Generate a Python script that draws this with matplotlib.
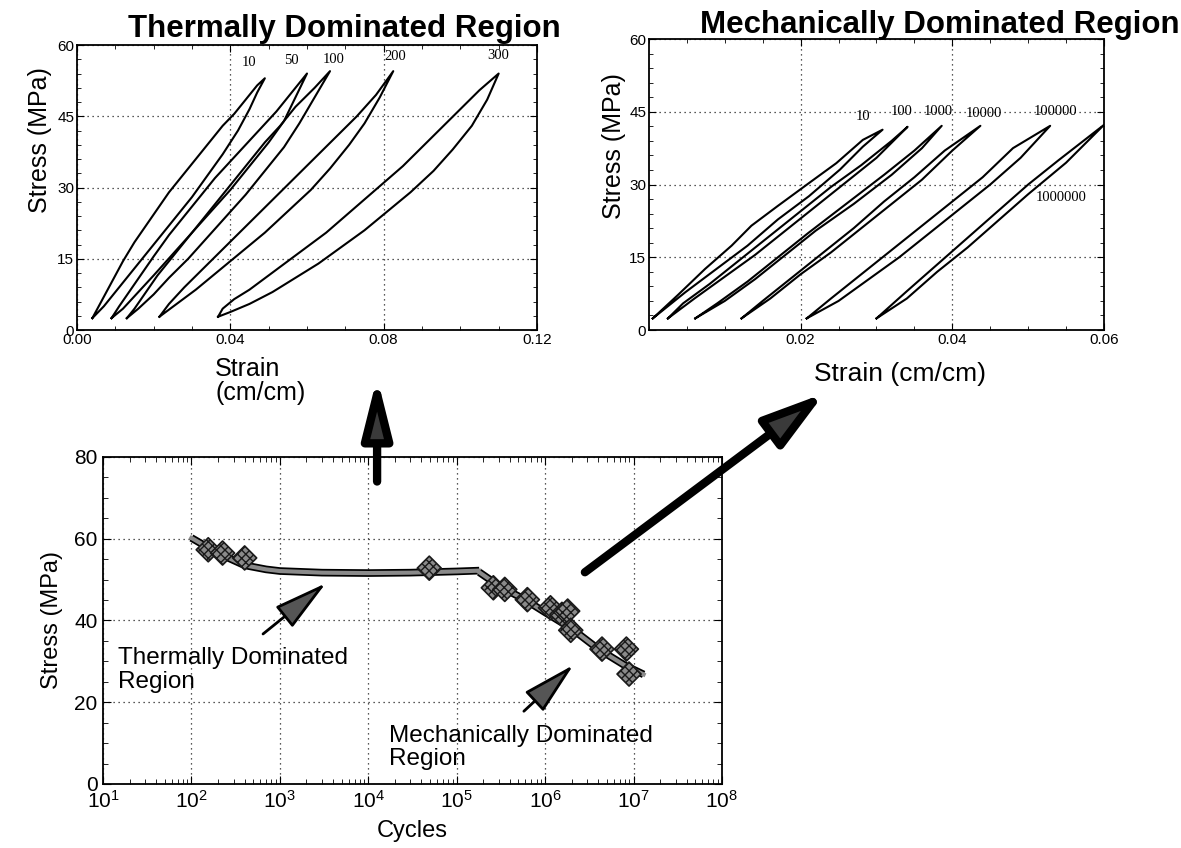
import matplotlib
matplotlib.use('Agg')
import numpy as np
import matplotlib.pyplot as plt
from matplotlib.ticker import MultipleLocator, FixedLocator, LogLocator, NullFormatter

plt.rcParams['font.family'] = ['Liberation Sans', 'DejaVu Sans']

## thermally dominated loops: cycle labels, loading (upper) and unloading (lower) branches
therm_cycles = ['10', '50', '100', '200', '300']
therm_load_strain = [
    [0.004, 0.006, 0.009, 0.012, 0.015, 0.018, 0.021, 0.024, 0.028, 0.031, 0.035, 0.038, 0.041, 0.044, 0.047, 0.049],
    [0.009, 0.011, 0.014, 0.017, 0.020, 0.024, 0.028, 0.032, 0.036, 0.040, 0.044, 0.048, 0.052, 0.056, 0.060],
    [0.013, 0.015, 0.018, 0.021, 0.025, 0.029, 0.033, 0.037, 0.041, 0.045, 0.049, 0.053, 0.057, 0.062, 0.066],
    [0.0215, 0.024, 0.028, 0.033, 0.038, 0.043, 0.048, 0.053, 0.058, 0.063, 0.068, 0.073, 0.078, 0.0825],
    [0.0368, 0.038, 0.041, 0.045, 0.050, 0.055, 0.060, 0.065, 0.070, 0.075, 0.080, 0.085, 0.090, 0.095, 0.100, 0.105, 0.110],
]
therm_load_stress = [
    [2.5, 5.5, 10, 14.5, 18.5, 22, 25.5, 29, 33, 36, 40, 43, 45.5, 48.5, 51.5, 53],
    [2.5, 5, 8.5, 12, 15.5, 20, 24, 28, 32, 35.5, 39, 42.5, 46, 50, 54],
    [2.5, 4.5, 8, 11.5, 15.5, 19.5, 23.5, 27.5, 31.5, 35.5, 39.5, 43, 47, 51, 54.5],
    [2.8, 5.5, 9, 13, 17, 21, 25, 29, 33, 37, 41, 45, 49.5, 54.5],
    [2.8, 4.5, 6.5, 8.5, 11.5, 14.5, 17.5, 20.5, 24, 27.5, 31, 34.5, 38.5, 42.5, 46.5, 50.5, 54],
]
therm_unload_strain = [
    [0.004, 0.007, 0.010, 0.014, 0.018, 0.022, 0.026, 0.030, 0.034, 0.038, 0.042, 0.045, 0.047, 0.049],
    [0.009, 0.012, 0.016, 0.020, 0.025, 0.030, 0.035, 0.040, 0.045, 0.050, 0.054, 0.057, 0.060],
    [0.013, 0.016, 0.020, 0.024, 0.029, 0.034, 0.039, 0.044, 0.049, 0.054, 0.058, 0.062, 0.066],
    [0.0215, 0.026, 0.031, 0.037, 0.043, 0.049, 0.055, 0.061, 0.066, 0.071, 0.075, 0.079, 0.0825],
    [0.0368, 0.040, 0.045, 0.051, 0.057, 0.063, 0.069, 0.075, 0.081, 0.087, 0.093, 0.098, 0.103, 0.107, 0.110],
]
therm_unload_stress = [
    [2.5, 5, 8, 12, 16, 20, 24, 28, 32.5, 37, 42, 46.5, 50, 53],
    [2.5, 4.5, 8, 11.5, 16, 20.5, 25, 29.5, 34.5, 39.5, 44, 49, 54],
    [2.5, 4.5, 7.5, 11, 15, 19.5, 24, 28.5, 33.5, 38.5, 43.5, 49, 54.5],
    [2.8, 5.5, 8.5, 12.5, 16.5, 20.5, 25, 29.5, 34, 39, 43.5, 49, 54.5],
    [2.8, 3.8, 5.5, 8, 11, 14, 17.5, 21, 25, 29, 33.5, 38, 43, 48.5, 54],
]
therm_label_pos = [(0.045, 55), (0.056, 55.3), (0.067, 55.5), (0.083, 56.2), (0.110, 56.4)]

## mechanically dominated loops
mech_cycles = ['10', '100', '1000', '10000', '100000', '1000000']
mech_load_strain = [
    [0.0005, 0.0038, 0.0074, 0.0109, 0.0135, 0.0170, 0.0211, 0.0247, 0.0282, 0.0308],
    [0.0025, 0.0045, 0.008, 0.012, 0.016, 0.020, 0.024, 0.028, 0.032, 0.0341],
    [0.0061, 0.009, 0.013, 0.017, 0.021, 0.026, 0.031, 0.035, 0.0386],
    [0.0122, 0.015, 0.019, 0.023, 0.027, 0.031, 0.035, 0.039, 0.0437],
    [0.0208, 0.024, 0.028, 0.032, 0.036, 0.040, 0.044, 0.048, 0.0529],
    [0.030, 0.034, 0.038, 0.042, 0.046, 0.050, 0.054, 0.060],
]
mech_load_stress = [
    [2.4, 7.2, 12.6, 17.4, 21.5, 25.6, 30.3, 34.4, 39.2, 41.3],
    [2.4, 5.5, 9.5, 14.5, 19.5, 24.5, 29.5, 34, 39, 41.9],
    [2.4, 5.5, 10, 15, 20, 26, 32, 37, 42.1],
    [2.4, 6, 11, 16, 21, 26.5, 31.5, 37, 42.1],
    [2.4, 6.5, 11.5, 16.5, 21.5, 26.5, 31.5, 37.5, 42.1],
    [2.4, 8, 13.5, 19, 24.5, 30, 35, 42.3],
]
mech_unload_strain = [
    [0.0005, 0.0048, 0.0089, 0.0130, 0.0170, 0.0211, 0.0252, 0.0282, 0.0308],
    [0.0025, 0.006, 0.010, 0.014, 0.018, 0.022, 0.026, 0.030, 0.0341],
    [0.0061, 0.010, 0.014, 0.018, 0.022, 0.027, 0.032, 0.036, 0.0386],
    [0.0122, 0.016, 0.020, 0.024, 0.028, 0.032, 0.036, 0.040, 0.0437],
    [0.0208, 0.025, 0.029, 0.033, 0.037, 0.041, 0.045, 0.049, 0.0529],
    [0.030, 0.034, 0.038, 0.042, 0.046, 0.050, 0.055, 0.060],
]
mech_unload_stress = [
    [2.4, 7.8, 12.6, 17.4, 22.8, 27.6, 33.1, 37.8, 41.3],
    [2.4, 6.5, 11, 15.5, 20.5, 25.5, 30.5, 35.5, 41.9],
    [2.4, 6, 10.5, 15.5, 20.5, 26, 32, 37.5, 42.1],
    [2.4, 6.5, 11.5, 16, 21, 26, 31, 37, 42.1],
    [2.4, 6, 10.5, 15, 20, 25, 30, 35.5, 42.1],
    [2.4, 6.5, 12, 17, 22.5, 28, 34.5, 42.3],
]
mech_label_pos = [(0.0282, 44), (0.0333, 45), (0.0381, 45), (0.0442, 44.7), (0.0536, 45), (0.0544, 27.3)]

## stress vs cycles
therm_fit_cycles = [100, 150, 250, 400, 700, 1000, 3000, 1e4, 3e4, 1e5, 1.8e5]
therm_fit_stress = [60.2, 58, 55.5, 53.5, 52.5, 52.1, 51.7, 51.6, 51.7, 52, 52.2]
mech_fit_cycles = [1.8e5, 3e5, 6e5, 1e6, 2e6, 4e6, 8e6, 1.3e7]
mech_fit_stress = [51.8, 48.5, 45, 42, 38, 33, 29, 26.8]
test_cycles = [155, 225, 400, 4.9e4, 2.6e5, 3.5e5, 6.3e5, 1.15e6, 1.55e6, 1.8e6, 1.95e6, 4.4e6, 8.3e6, 8.9e6]
test_stress = [57.3, 56.5, 55.3, 52.8, 48, 47.6, 45.1, 43.1, 41.5, 42.3, 37.6, 33, 33, 26.9]

grid_kw = dict(color='#222222', linestyle=(0, (1, 3)), linewidth=0.9)

fig = plt.figure(figsize=(11.81, 8.48), dpi=100)

def loop_axes(rect, xmax, xmajor, xminor):
    ax = fig.add_axes(rect)
    ax.set_xlim(0, xmax)
    ax.set_ylim(0, 60)
    ax.xaxis.set_major_locator(MultipleLocator(xmajor))
    ax.xaxis.set_minor_locator(MultipleLocator(xminor))
    ax.yaxis.set_major_locator(MultipleLocator(15))
    ax.yaxis.set_minor_locator(MultipleLocator(3))
    ax.tick_params(which='both', direction='in', top=True, right=True, labelsize=11, pad=2)
    ax.tick_params(which='major', length=5)
    ax.tick_params(which='minor', length=3)
    ax.grid(True, which='major', **grid_kw)
    for s in ax.spines.values():
        s.set_linewidth(1.3)
    return ax

# thermally dominated
ax1 = loop_axes([0.0652, 0.6108, 0.3895, 0.3361], 0.12, 0.04, 0.01)
ax1.xaxis.set_major_formatter(plt.FormatStrFormatter('%.2f'))
for i in range(len(therm_cycles)):
    xs = therm_load_strain[i] + therm_unload_strain[i][::-1]
    ys = therm_load_stress[i] + therm_unload_stress[i][::-1]
    ax1.plot(xs, ys, color='black', lw=1.5)
    ax1.text(therm_label_pos[i][0], therm_label_pos[i][1], therm_cycles[i],
             family='Liberation Serif', fontsize=10.5, ha='center', va='bottom')
ax1.text(0.111, 1.028, 'Thermally Dominated Region', transform=ax1.transAxes,
         fontsize=22.5, fontweight='bold', ha='left', va='baseline')
ax1.set_ylabel('Stress (MPa)', fontsize=18)
ax1.yaxis.set_label_coords(-0.054, 0.667)
ax1.text(0.30, -0.095, 'Strain\n(cm/cm)', transform=ax1.transAxes,
         fontsize=18, ha='left', va='top', linespacing=1.0)

# mechanically dominated
ax2 = loop_axes([0.5495, 0.6108, 0.3853, 0.3432], 0.06, 0.02, 0.005)
ax2.xaxis.set_major_locator(FixedLocator([0.02, 0.04, 0.06]))
ax2.xaxis.set_major_formatter(plt.FormatStrFormatter('%.2f'))
for i in range(len(mech_cycles)):
    xs = mech_load_strain[i] + mech_unload_strain[i][::-1]
    ys = mech_load_stress[i] + mech_unload_stress[i][::-1]
    ax2.plot(xs, ys, color='black', lw=1.5)
    ax2.text(mech_label_pos[i][0], mech_label_pos[i][1], mech_cycles[i],
             family='Liberation Serif', fontsize=10.5, ha='center', va='center')
ax2.text(0.112, 1.021, 'Mechanically Dominated Region', transform=ax2.transAxes,
         fontsize=22.5, fontweight='bold', ha='left', va='baseline')
ax2.set_ylabel('Stress (MPa)', fontsize=18)
ax2.yaxis.set_label_coords(-0.05, 0.632)
ax2.text(0.552, -0.15, 'Strain (cm/cm)', transform=ax2.transAxes,
         fontsize=19, ha='center', va='center')

# stress vs cycles
ax3 = fig.add_axes([0.0872, 0.0755, 0.5241, 0.3856])
ax3.set_xscale('log')
ax3.set_xlim(10, 1e8)
ax3.set_ylim(0, 80)
ax3.xaxis.set_major_locator(LogLocator(base=10, numticks=10))
ax3.xaxis.set_minor_locator(LogLocator(base=10, subs=np.arange(2, 10), numticks=20))
ax3.xaxis.set_minor_formatter(NullFormatter())
ax3.yaxis.set_major_locator(MultipleLocator(20))
ax3.yaxis.set_minor_locator(MultipleLocator(5))
ax3.tick_params(which='both', direction='in', top=True, right=True, labelsize=15, pad=4)
ax3.tick_params(which='major', length=6)
ax3.tick_params(which='minor', length=3.5)
ax3.grid(True, which='major', **grid_kw)
for s in ax3.spines.values():
    s.set_linewidth(1.3)

ax3.plot(therm_fit_cycles, therm_fit_stress, color='black', lw=5.5, solid_capstyle='butt', zorder=3)
ax3.plot(therm_fit_cycles, therm_fit_stress, color='#8a8a8a', lw=3, zorder=3)
ax3.plot(mech_fit_cycles, mech_fit_stress, color='black', lw=5.5, solid_capstyle='butt', zorder=3)
ax3.plot(mech_fit_cycles, mech_fit_stress, color='#8a8a8a', lw=3, zorder=3)
ax3.scatter(test_cycles, test_stress, marker='D', s=150, facecolor='#8a8a8a',
            edgecolor='#1a1a1a', linewidth=1.2, hatch='xxxx', zorder=4)

ax3.set_xlabel('Cycles', fontsize=17, labelpad=6)
ax3.set_ylabel('Stress (MPa)', fontsize=17, labelpad=8)

small_arrow = dict(arrowstyle='-|>,head_length=2.4,head_width=0.6', lw=2,
                   fc='#555555', ec='black', shrinkA=0, shrinkB=0, mutation_scale=14)
ax3.annotate('', xy=(10**3.52, 49.1), xytext=(10**2.81, 36.7), arrowprops=small_arrow)
ax3.annotate('', xy=(10**6.32, 29.1), xytext=(10**5.76, 17.8), arrowprops=small_arrow)
ax3.text(10**1.17, 33.5, 'Thermally Dominated\nRegion', fontsize=17.5, ha='left', va='top',
         linespacing=1.1)
ax3.text(10**4.23, 14.5, 'Mechanically Dominated\nRegion', fontsize=17.5, ha='left', va='top',
         linespacing=1.1)

up_arrow = dict(arrowstyle='-|>,head_length=1.6,head_width=0.4', lw=6,
                fc='#3a3a3a', ec='black', shrinkA=0, shrinkB=0, mutation_scale=22)
ax3.annotate('', xy=(10**4.10, 99.5), xytext=(10**4.10, 74), arrowprops=up_arrow,
             annotation_clip=False)
side_arrow = dict(arrowstyle='-|>,head_length=1.7,head_width=0.5', lw=6,
                  fc='#3a3a3a', ec='black', shrinkA=0, shrinkB=0, mutation_scale=22)
ax3.annotate('', xy=(10**9.16, 95.6), xytext=(10**6.45, 51.8), arrowprops=side_arrow,
             annotation_clip=False)

fig.savefig('out.png', dpi=100)
